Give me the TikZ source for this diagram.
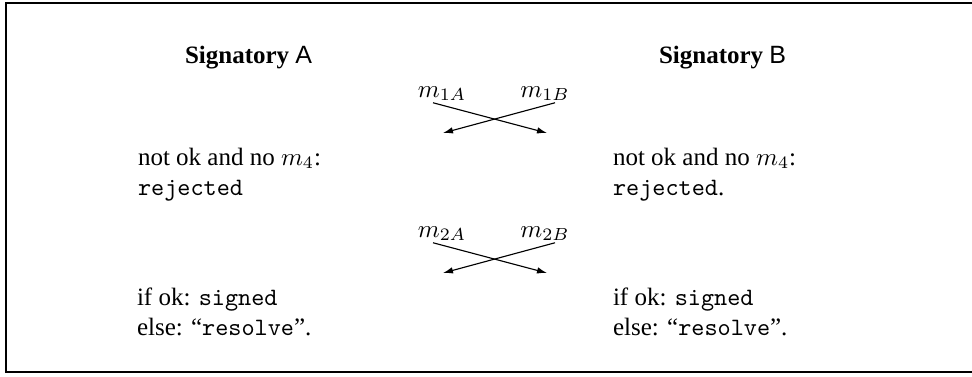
\documentclass[tikz,border=0pt]{standalone}
\usepackage{fontspec}
\setmainfont{Liberation Serif}
\setsansfont{Liberation Sans}
\usetikzlibrary{arrows.meta}
\begin{document}
\begin{tikzpicture}[
		x=0.4pt, y=-0.4pt,
		every node/.style={inner sep=0pt, outer sep=0pt},
		party/.style={anchor=base west},
		verdict/.style={anchor=base west, align=left},
		msg/.style={anchor=base},
		cross/.style={-{Latex[length=4pt,width=2.6pt]}, line width=0.45pt}
		]
		\useasboundingbox (0,0) rectangle (972,376);
		\draw[line width=0.6pt] (990,3) -- (6,3) -- (6,372) -- (990,372);
		
		\node[party] (sigA) at (185,63) {\textbf{Signatory} \textsf{A}};
		\node[party] (sigB) at (659,63) {\textbf{Signatory} \textsf{B}};
		
		% first exchange
		\node[msg] (m1A) at (442,97) {$m_{1A}$};
		\node[msg] (m1B) at (545,97) {$m_{1B}$};
		\coordinate (e1A) at (443,133);
		\coordinate (e1B) at (547,133);
		\draw[cross] ([shift={(-9,2)}]m1A.south) -- (e1B);
		\draw[cross] ([shift={(10,2)}]m1B.south) -- (e1A);
		
		\node[verdict] (rejA) at (138,195) {not ok and no $m_4$:\\ \texttt{rejected}};
		\node[verdict] (rejB) at (613,195) {not ok and no $m_4$:\\ \texttt{rejected}.};
		
		% second exchange
		\node[msg] (m2A) at (442,237) {$m_{2A}$};
		\node[msg] (m2B) at (545,237) {$m_{2B}$};
		\coordinate (e2A) at (443,273);
		\coordinate (e2B) at (547,273);
		\draw[cross] ([shift={(-9,2)}]m2A.south) -- (e2B);
		\draw[cross] ([shift={(10,2)}]m2B.south) -- (e2A);
		
		\node[verdict] (sigdA) at (137,335) {if ok: \texttt{signed}\\ else: ``\texttt{resolve}''.};
		\node[verdict] (sigdB) at (613,335) {if ok: \texttt{signed}\\ else: ``\texttt{resolve}''.};
	\end{tikzpicture}
\end{document}
